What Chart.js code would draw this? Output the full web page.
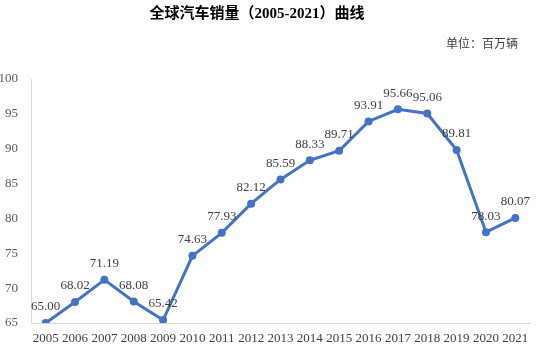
<!DOCTYPE html>
<html>
<head>
<meta charset="utf-8">
<script src="https://cdn.jsdelivr.net/npm/chart.js@4"></script>
<style>
  html, body { margin: 0; padding: 0; background: #fff; }
  #wrap { width: 548px; height: 347px; }
</style>
</head>
<body>
<div id="wrap"><canvas id="salesChart" width="548" height="347"></canvas></div>
<script>
const years = ["2005", "2006", "2007", "2008", "2009", "2010", "2011", "2012", "2013", "2014", "2015", "2016", "2017", "2018", "2019", "2020", "2021"];
const sales = [65.00, 68.02, 71.19, 68.08, 65.42, 74.63, 77.93, 82.12, 85.59, 88.33, 89.71, 93.91, 95.66, 95.06, 89.81, 78.03, 80.07];
const yMin = 65;
const yMax = 100;
const yStep = 5;

const titleText = "全球汽车销量（2005-2021）曲线";
const unitText = "单位：百万辆";

// title, unit and value labels drawn on the canvas
const textPlugin = {
  id: "texts",
  afterDatasetsDraw(chart) {
    const ctx = chart.ctx;
    ctx.save();
    ctx.fillStyle = "#000";
    ctx.font = "bold 15px 'Liberation Serif', 'Noto Sans CJK SC'";
    ctx.textAlign = "center";
    ctx.textBaseline = "middle";
    ctx.fillText(titleText, 257, 14);

    ctx.font = "12px 'Liberation Serif', 'Noto Sans CJK SC'";
    ctx.fillStyle = "#404040";
    ctx.textAlign = "right";
    ctx.fillText(unitText, 518, 45);

    ctx.font = "13px 'Liberation Serif'";
    ctx.textAlign = "center";
    const meta = chart.getDatasetMeta(0);
    meta.data.forEach((pt, i) => {
      ctx.fillText(sales[i].toFixed(2), pt.x, pt.y - 16);
    });
    ctx.restore();
  }
};

const data = {
  labels: years,
  datasets: [
    {
      data: sales,
      borderColor: "#4472C4",
      backgroundColor: "#4472C4",
      borderWidth: 3,
      pointRadius: 4,
      pointBorderWidth: 0,
      pointHoverRadius: 4,
      tension: 0,
    },
  ],
};

const config = {
  type: "line",
  data: data,
  options: {
    responsive: false,
    animation: false,
    layout: { padding: { top: 79, right: 18, left: 0, bottom: 0 } },
    plugins: {
      legend: { display: false },
      tooltip: { enabled: false },
      title: { display: false },
    },
    scales: {
      x: {
        offset: true,
        grid: { display: false, drawTicks: false },
        border: { display: true, color: "#d9d9d9", width: 1 },
        ticks: {
          color: "#404040",
          font: { family: "'Liberation Serif'", size: 13 },
          padding: 8,
          maxRotation: 0,
          autoSkip: false,
        },
        afterFit(scale) { scale.height = 24; },
      },
      y: {
        min: yMin,
        max: yMax,
        grid: { display: false, drawTicks: false },
        border: { display: true, color: "#d9d9d9", width: 1 },
        ticks: {
          stepSize: yStep,
          color: "#595959",
          font: { family: "'Liberation Serif'", size: 13 },
          padding: 13,
        },
        afterFit(scale) { scale.width = 31; },
      },
    },
  },
  plugins: [textPlugin],
};

const myChart = new Chart(document.getElementById("salesChart"), config);
</script>
</body>
</html>
